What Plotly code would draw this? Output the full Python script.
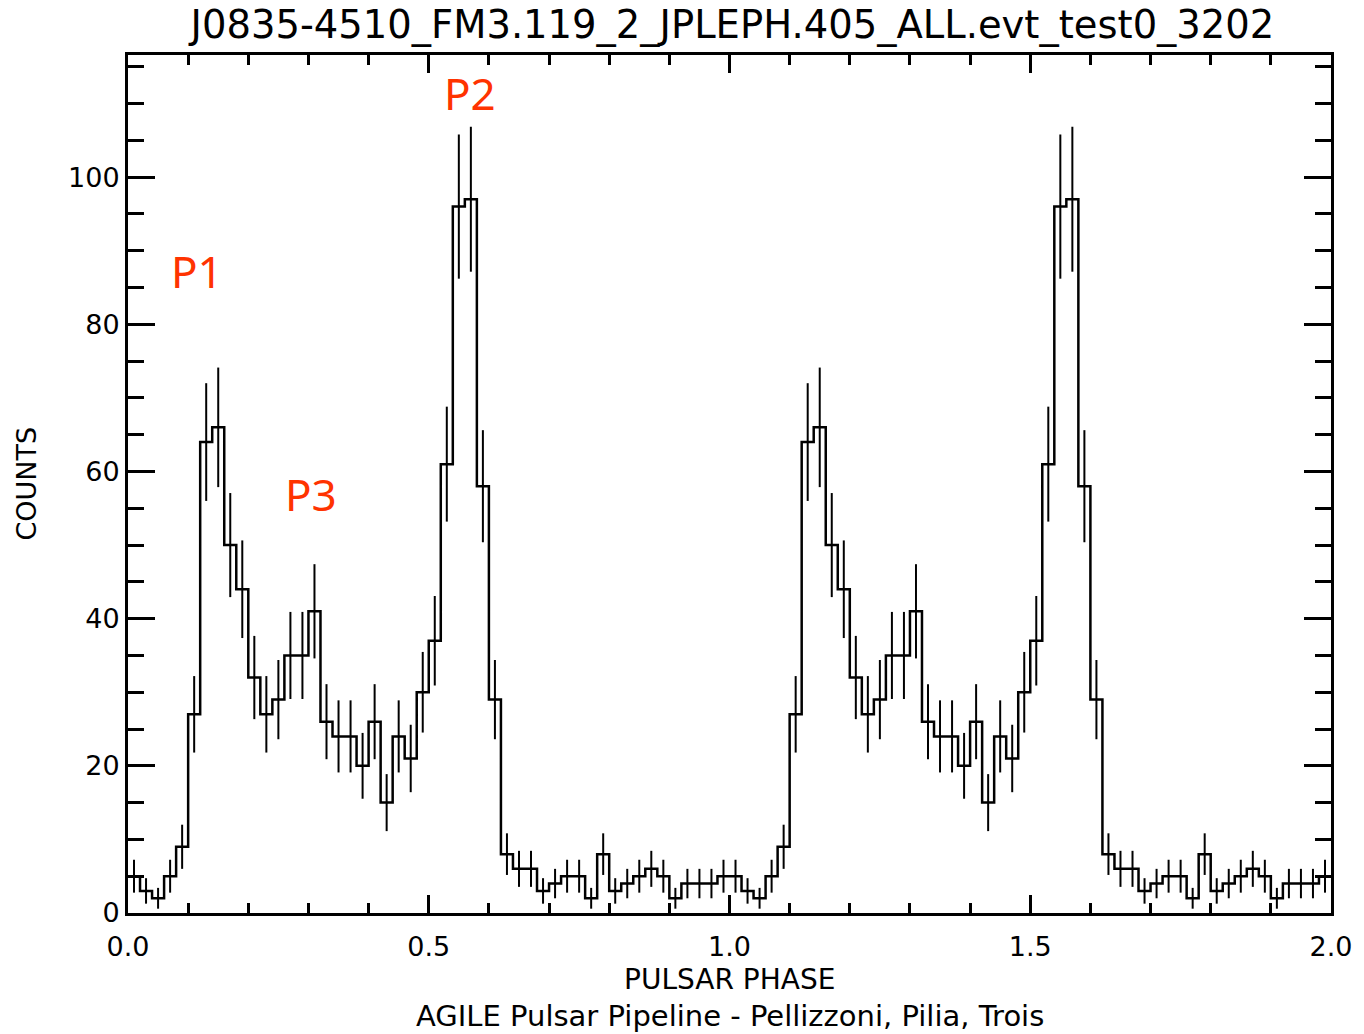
import numpy as np
import plotly.graph_objects as go

# ---- data: pulse profile, one rotation, 50 phase bins (counts per bin) ----
counts = [5, 3, 2, 5, 9, 27, 64, 66, 50, 44,
          32, 27, 29, 35, 35, 41, 26, 24, 24, 20,
          26, 15, 24, 21, 30, 37, 61, 96, 97, 58,
          29, 8, 6, 6, 3, 4, 5, 5, 2, 8,
          3, 4, 5, 6, 5, 2, 4, 4, 4, 5]
n_bins = 50
n_cycles = 2
peak_labels = ["P1", "P2", "P3"]
peak_label_x = [0.114, 0.569, 0.304]
peak_label_y = [87.2, 111.4, 56.9]
x_tick_vals = [0.0, 0.5, 1.0, 1.5, 2.0]
y_tick_vals = [0, 20, 40, 60, 80, 100]
title_text = "J0835-4510_FM3.119_2_JPLEPH.405_ALL.evt_test0_3202"
x_title = "PULSAR PHASE"
y_title = "COUNTS"
credit_text = "AGILE Pulsar Pipeline - Pellizzoni, Pilia, Trois"

# ---- derived arrays ----
bin_width = 1.0 / n_bins
profile = np.array(counts * n_cycles, dtype=float)
edges = np.arange(n_bins * n_cycles + 1) * bin_width
centers = (np.arange(n_bins * n_cycles) + 0.5) * bin_width
step_y = np.append(profile, profile[-1])
errors = np.sqrt(profile)

FONT = "DejaVu Sans"
RED = "#FF3300"

fig = go.Figure()
fig.add_trace(go.Scatter(
    x=centers, y=profile, mode="markers",
    marker=dict(size=1, color="rgba(0,0,0,0)"),
    error_y=dict(type="data", array=errors, visible=True, width=0,
                 thickness=2, color="black"),
    hoverinfo="skip", showlegend=False))
fig.add_trace(go.Scatter(
    x=edges, y=step_y, mode="lines",
    line=dict(shape="hv", color="black", width=2.5),
    showlegend=False))

for t, xx, yy in zip(peak_labels, peak_label_x, peak_label_y):
    fig.add_annotation(x=xx, y=yy, xref="x", yref="y", text=t, showarrow=False,
                       xanchor="center", yanchor="middle",
                       font=dict(family="Noto Sans", size=44, color=RED))

fig.add_annotation(x=0.5, y=-(980 - 913) / 860, xref="paper", yref="paper", text=x_title,
                   showarrow=False, xanchor="center", yanchor="middle", borderpad=0,
                   font=dict(family=FONT, size=28, color="black"))
fig.add_annotation(x=0.5, y=-(1016 - 913) / 860, xref="paper", yref="paper", text=credit_text,
                   showarrow=False, xanchor="center", yanchor="middle", borderpad=0,
                   font=dict(family=FONT, size=29, color="black"))
fig.add_annotation(x=-0.0852, y=0.5, xref="paper", yref="paper", text=y_title,
                   showarrow=False, xanchor="center", yanchor="middle", textangle=-90,
                   font=dict(family=FONT, size=27, color="black"))

fig.update_layout(
    width=1364, height=1034,
    margin=dict(l=128, r=26, t=55, b=121, pad=0),
    paper_bgcolor="white", plot_bgcolor="white",
    title=dict(text=title_text, x=0.537, xref="container", y=1 - 25 / 1034,
               yref="container", xanchor="center", yanchor="middle",
               font=dict(family=FONT, size=38.5, color="black")),
    showlegend=False,
)
fig.update_xaxes(
    range=[0, 2], showline=True, linecolor="black", linewidth=3, mirror="allticks",
    ticks="inside", ticklen=18, tickwidth=3, tickcolor="black",
    tickvals=x_tick_vals, tickformat=".1f",
    minor=dict(dtick=0.1, tick0=0, ticks="inside", ticklen=10, tickwidth=3, tickcolor="black"),
    showgrid=False, zeroline=False, ticklabelstandoff=8,
    tickfont=dict(family=FONT, size=27, color="black"))
fig.update_yaxes(
    range=[0, 116.6], showline=True, linecolor="black", linewidth=3, mirror="allticks",
    ticks="inside", ticklen=27, tickwidth=3, tickcolor="black",
    tickvals=y_tick_vals,
    minor=dict(dtick=5, tick0=0, ticks="inside", ticklen=16, tickwidth=3, tickcolor="black"),
    showgrid=False, zeroline=False, ticklabelstandoff=0,
    tickfont=dict(family=FONT, size=27, color="black"))

fig.write_html("out.html", config={"displayModeBar": False})
